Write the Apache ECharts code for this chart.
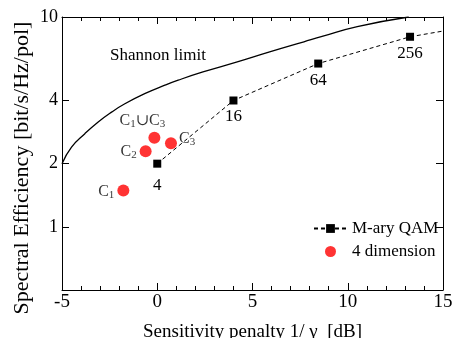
<!DOCTYPE html>
<html>
<head>
<meta charset="utf-8">
<script src="https://cdn.jsdelivr.net/npm/echarts@6/dist/echarts.min.js"></script>
<style>
  html, body { margin: 0; padding: 0; background: #fff; }
  #chart { width: 454px; height: 338px; }
</style>
</head>
<body>
<div id="chart"></div>
<script>
// Shannon limit
const shannonX = [-5, -4.5, -3.8, -3.1, -2.4, -1.7, -0.66, 0.4, 1.1, 2.4, 4.2, 5.9, 7.7, 8.7, 10.5, 13.2]
const shannonY = [2.0, 2.4, 2.78, 3.16, 3.52, 3.86, 4.31, 4.73, 5.0, 5.47, 6.11, 6.82, 7.62, 8.1, 9.0, 10.0]

// M-ary QAM points (last entry is the dashed line running out to the frame)
const qamX = [0, 4, 8.45, 13.27, 15]
const qamY = [2, 4, 6, 8.05, 8.57]
const qamLabels = ['4', '16', '64', '256', '']

// 4 dimension points
const dimX = [-1.78, -0.61, -0.15, 0.72]
const dimY = [1.49, 2.29, 2.66, 2.5]
const dimLabels = ['{c|C}{s|1}', '{c|C}{s|2}', '{c|C}{s|1}{c|\u222AC}{s|3}', '{c|C}{s|3}']

const xTicks = { min: -5, max: 15, interval: 5 }
const yTicks = [1, 2, 4, 10]

const FONT = '"Liberation Serif", "DejaVu Serif", serif'

const chart = echarts.init(document.getElementById('chart'))

const rich = {
  c: { fontFamily: FONT, fontSize: 16, lineHeight: 17, verticalAlign: 'top', color: '#000' },
  s: { fontFamily: FONT, fontSize: 11, lineHeight: 11, padding: [10, 0, 0, 0], verticalAlign: 'bottom', color: '#000' },
}

const labelPos = [
  { position: 'left', distance: 3, offset: [0, 2] },
  { position: 'left', distance: 3, offset: [0, 1] },
  { position: 'top', distance: 2, offset: [-12, 0] },
  { position: 'right', distance: 2, offset: [0, -4] },
]

const axisLine = { show: true, onZero: false, lineStyle: { color: '#000', width: 1 } }
const tickStyle = { color: '#000', width: 1 }

const option = {
  animation: false,
  backgroundColor: '#fff',
  grid: { left: 62, right: 11, top: 17, bottom: 48, containLabel: false, outerBoundsMode: 'none' },
  legend: {
    orient: 'vertical',
    left: 308,
    top: 215,
    itemWidth: 33,
    itemHeight: 11,
    itemGap: 6,
    data: ['M-ary QAM', '4 dimension'],
    textStyle: { fontFamily: FONT, fontSize: 17, color: '#000' },
  },
  xAxis: [
    {
      type: 'value',
      min: xTicks.min,
      max: xTicks.max,
      interval: xTicks.interval,
      position: 'bottom',
      name: 'Sensitivity penalty 1/ \u03B3  [dB]',
      nameLocation: 'middle',
      nameGap: 33,
      nameTextStyle: { fontFamily: FONT, fontSize: 19, color: '#000' },
      axisLine: axisLine,
      axisTick: { show: true, inside: true, length: 7, lineStyle: tickStyle },
      minorTick: { show: true, splitNumber: 5, length: 4, lineStyle: tickStyle },
      axisLabel: { fontFamily: FONT, fontSize: 19, color: '#000', margin: 3 },
      splitLine: { show: false },
    },
    {
      type: 'value',
      min: xTicks.min,
      max: xTicks.max,
      interval: xTicks.interval,
      position: 'top',
      axisLine: axisLine,
      axisTick: { show: true, inside: true, length: 7, lineStyle: tickStyle },
      minorTick: { show: true, splitNumber: 5, length: 4, lineStyle: tickStyle },
      axisLabel: { show: false },
      splitLine: { show: false },
    },
  ],
  yAxis: [
    {
      type: 'log',
      logBase: 10,
      min: 0.5,
      max: 10,
      position: 'left',
      axisLine: axisLine,
      axisTick: { show: true, inside: true, length: 7, customValues: yTicks, lineStyle: tickStyle },
      axisLabel: { customValues: yTicks, fontFamily: FONT, fontSize: 18, color: '#000', margin: 4 },
      splitLine: { show: false },
      minorTick: { show: false },
    },
    {
      type: 'log',
      logBase: 10,
      min: 0.5,
      max: 10,
      position: 'right',
      axisLine: axisLine,
      axisTick: { show: true, inside: true, length: 7, customValues: yTicks, lineStyle: tickStyle },
      axisLabel: { show: false },
      splitLine: { show: false },
    },
  ],
  graphic: [
    {
      type: 'text',
      left: 110,
      top: 47,
      style: { text: 'Shannon limit', font: '17px ' + FONT, fill: '#000' },
    },
    {
      type: 'text',
      x: 22,
      y: 168,
      rotation: Math.PI / 2,
      style: {
        text: 'Spectral Efficiency [bit/s/Hz/pol]',
        font: '22px ' + FONT,
        fill: '#000',
        align: 'center',
        verticalAlign: 'middle',
      },
    },
  ],
  series: [
    {
      name: 'Shannon limit',
      type: 'line',
      smooth: 0.5,
      symbol: 'none',
      data: shannonX.map((x, i) => [x, shannonY[i]]),
      lineStyle: { color: '#000', width: 1.3 },
      itemStyle: { color: '#000' },
      silent: true,
      z: 2,
    },
    {
      name: 'M-ary QAM',
      type: 'line',
      symbol: 'rect',
      symbolSize: 8,
      data: qamX.map((x, i) => ({
        value: [x, qamY[i]],
        symbol: qamLabels[i] ? 'rect' : 'none',
        label: {
          show: !!qamLabels[i],
          formatter: qamLabels[i],
          position: 'bottom',
          distance: i === 0 ? 9 : 4,
        },
      })),
      lineStyle: { color: '#000', width: 1, type: [4, 3] },
      itemStyle: { color: '#000' },
      label: { fontFamily: FONT, fontSize: 17, color: '#000' },
      z: 3,
    },
    {
      name: '4 dimension',
      type: 'scatter',
      symbol: 'circle',
      symbolSize: 12,
      data: dimX.map((x, i) => ({
        value: [x, dimY[i]],
        label: Object.assign({ show: true, formatter: dimLabels[i], rich: rich }, labelPos[i]),
      })),
      itemStyle: { color: '#ff0000' },
      z: 4,
    },
  ],
}

chart.setOption(option)
</script>
</body>
</html>
